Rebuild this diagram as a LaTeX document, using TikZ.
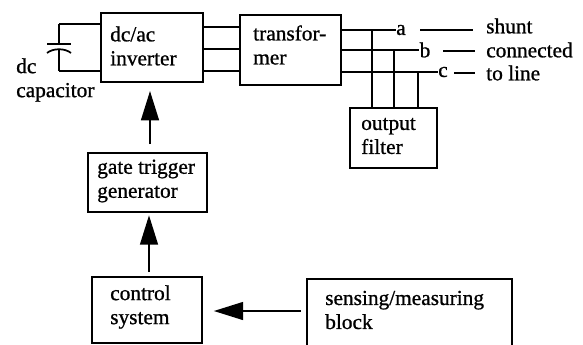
\documentclass[tikz,border=0pt]{standalone}
\usepackage{fontspec}
\setmainfont{Liberation Serif}[FakeBold=0.9]
\usetikzlibrary{positioning,arrows.meta}

\begin{document}
\begin{tikzpicture}[x=0.75pt, y=-0.75pt,
                    blocknode/.style={draw, line width=1.3pt, inner sep=0pt},
                    textnode/.style={inner sep=0pt, font=\fontsize{16}{18}\selectfont, align=left},
                    phaseline/.style={line width=1.3pt},
                    bigarrow/.style={line width=1.1pt, -{Triangle[length=22pt, width=13.5pt]}},
                ]
                    \useasboundingbox (0,0) rectangle (583,344);

                    %Nodes
                    \node[blocknode, minimum width=76pt, minimum height=52pt](inverter) at (152,47.5) {};
                    \node[textnode, anchor=west](invertertext) at (110,46) {dc/ac\\inverter};
                    \node[blocknode, minimum width=76pt, minimum height=53pt](transformer) at (290.5,50) {};
                    \node[textnode, anchor=west](transformertext) at (253,45) {transfor-\\mer};
                    \node[blocknode, minimum width=65pt, minimum height=45pt](filter) at (393.5,138) {};
                    \node[textnode, anchor=west](filtertext) at (361,136) {output\\filter};
                    \node[blocknode, minimum width=89pt, minimum height=44pt](gate) at (147.5,182.5) {};
                    \node[textnode, anchor=west](gatetext) at (97,181) {gate trigger\\generator};
                    \node[blocknode, minimum width=83pt, minimum height=49.5pt](control) at (147,310) {};
                    \node[textnode, anchor=west](controltext) at (110,307) {control\\system};
                    \node[blocknode, minimum width=154pt, minimum height=53pt](sensing) at (409.5,314.5) {};
                    \node[textnode, anchor=west](sensingtext) at (325,310) {sensing/measuring\\block};
                    \node[textnode, anchor=west](captext) at (16,80) {dc\\capacitor};
                    \node[textnode, anchor=west](shunt) at (486,26) {shunt};
                    \node[textnode, anchor=west](connected) at (486,50) {connected};
                    \node[textnode, anchor=west](toline) at (486,73) {to line};
                    \node[textnode](phasea) at (401,30) {a};
                    \node[textnode](phaseb) at (425,50) {b};
                    \node[textnode](phasec) at (443,72) {c};

                    \coordinate (captop) at (59,24);
                    \coordinate (capbottom) at (59,71);
                    \coordinate (lineenda) at (473,30);
                    \coordinate (linestarta) at (420,30);
                    \coordinate (lineendb) at (475,51);
                    \coordinate (linestartb) at (443,51);
                    \coordinate (lineendc) at (475,73);
                    \coordinate (linestartc) at (454,73);

                    %Lines
                    \draw[phaseline](captop) -- (59,44);
                    \draw[phaseline](47,44) -- (71,44);
                    \draw[phaseline](47,53) .. controls (53,48) and (65,48) .. (71,53);
                    \draw[phaseline](59,50) -- (capbottom);
                    \draw[phaseline](captop) -- (captop -| inverter.west);
                    \draw[phaseline](capbottom) -- (capbottom -| inverter.west);
                    \foreach \ypos in {27,49,71}
                        \draw[phaseline](inverter.east |- 0,\ypos) -- (transformer.west |- 0,\ypos);
                    \draw[phaseline](transformer.east |- phasea) -- (phasea.west);
                    \draw[phaseline](transformer.east |- phaseb) -- (phaseb.west);
                    \draw[phaseline](transformer.east |- phasec) -- (phasec.west);
                    \draw[phaseline](linestarta) -- (lineenda);
                    \draw[phaseline](linestartb) -- (lineendb);
                    \draw[phaseline](linestartc) -- (lineendc);
                    \foreach \xpos/\phase in {372/a,394/b,418/c}
                        \draw[phaseline](\xpos,0 |- phase\phase) -- (\xpos,0 |- filter.north);
                    \draw[bigarrow, shorten >=6pt](150,144) -- (inverter.south -| 150,0);
                    \draw[bigarrow, shorten >=2pt](149,272) -- (gate.south -| 149,0);
                    \draw[bigarrow, shorten <=4pt, shorten >=8pt](sensing.west |- 0,311) -- (control.east |- 0,311);
                \end{tikzpicture}
\end{document}
